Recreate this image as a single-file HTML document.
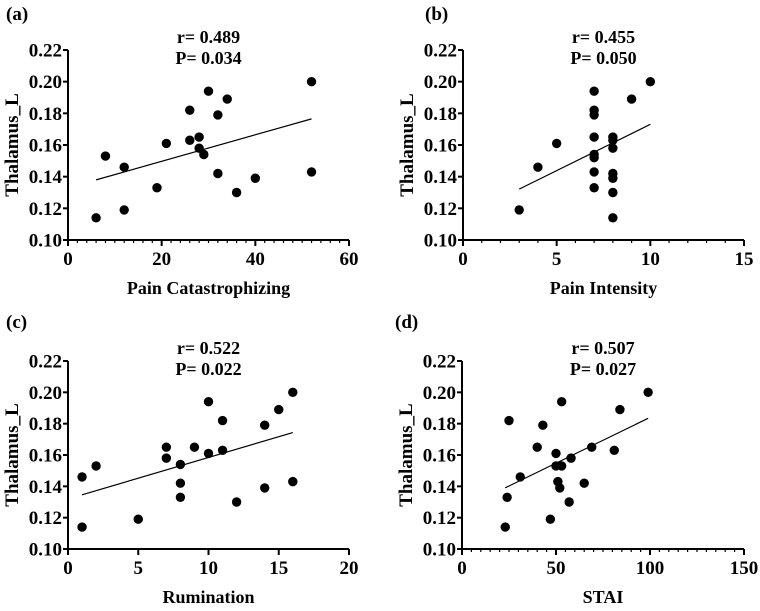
<!DOCTYPE html>
<html><head><meta charset="utf-8"><style>
body{margin:0;background:#fff;}
svg text{font-family:"Liberation Serif",serif;font-weight:bold;fill:#000;}
</style></head><body>
<svg id="fig" width="760" height="606" xmlns="http://www.w3.org/2000/svg"></svg>
<script>
const aX=[6,8,12,12,19,21,26,26,28,28,29,30,32,32,34,36,40,52,52];
const aY=[0.114,0.153,0.146,0.119,0.133,0.161,0.182,0.163,0.165,0.158,0.154,0.194,0.179,0.142,0.189,0.130,0.139,0.200,0.143];
const bX=[3,4,5,7,7,7,7,7,7,7,7,8,8,8,8,8,8,8,9,10];
const bY=[0.119,0.146,0.161,0.194,0.182,0.179,0.165,0.154,0.152,0.143,0.133,0.165,0.163,0.158,0.142,0.139,0.130,0.114,0.189,0.200];
const cX=[1,1,2,5,7,7,8,8,8,9,10,10,11,11,12,14,14,15,16,16];
const cY=[0.146,0.114,0.153,0.119,0.165,0.158,0.154,0.142,0.133,0.165,0.194,0.161,0.182,0.163,0.130,0.179,0.139,0.189,0.200,0.143];
const dX=[23,24,25,31,40,43,47,50,50,51,52,53,53,57,58,65,69,81,84,99];
const dY=[0.114,0.133,0.182,0.146,0.165,0.179,0.119,0.161,0.153,0.143,0.139,0.153,0.194,0.130,0.158,0.142,0.165,0.163,0.189,0.200];
const yTicks=[0.10,0.12,0.14,0.16,0.18,0.20,0.22];
const aTicks=[0,20,40,60], bTicks=[0,5,10,15], cTicks=[0,5,10,15,20], dTicks=[0,50,100,150];
const labels=['(a)','(b)','(c)','(d)'];
const stats=[['r= 0.489','P= 0.034'],['r= 0.455','P= 0.050'],['r= 0.522','P= 0.022'],['r= 0.507','P= 0.027']];
const titles=['Pain Catastrophizing','Pain Intensity','Rumination','STAI'];
const NS='http://www.w3.org/2000/svg';
const svg=document.getElementById('fig');
function mk(t,a,p){const e=document.createElementNS(NS,t);for(const k in a)e.setAttribute(k,a[k]);(p||svg).appendChild(e);return e;}
const panels=[
 {xs:aX,ys:aY,xt:aTicks,minor:2,x0:68,x1:349,y0:240,y1:50,lx:6,ly:20},
 {xs:bX,ys:bY,xt:bTicks,minor:1,x0:463,x1:744,y0:240,y1:50,lx:425,ly:20},
 {xs:cX,ys:cY,xt:cTicks,minor:0,x0:68,x1:349,y0:549,y1:361,lx:6,ly:328},
 {xs:dX,ys:dY,xt:dTicks,minor:5,x0:462,x1:744,y0:549,y1:361,lx:395,ly:328}];
panels.forEach((P,i)=>{
 const g=mk('g',{});
 
 
 const xmax=P.xt[P.xt.length-1];
 const sx=v=>P.x0+(v/xmax)*(P.x1-P.x0);
 const sy=v=>P.y0-(v-0.10)/0.12*(P.y0-P.y1);
 const pl=mk('text',{x:P.lx,y:P.ly,'font-size':19},g);pl.textContent=labels[i];
 
 
 const ax=mk('path',{d:`M${P.x0},${P.y1}V${P.y0}H${P.x1}`,stroke:'#000','stroke-width':2,fill:'none'},g);
 
 
 yTicks.forEach(t=>{const y=sy(t);mk('line',{x1:P.x0-5,x2:P.x0,y1:y,y2:y,stroke:'#000','stroke-width':2},g);
  const tx=mk('text',{x:P.x0-6,y:y+6.5,'font-size':19,'text-anchor':'end'},g);tx.textContent=t.toFixed(2);
  
  });
 if(P.minor){for(let v=0;v<=xmax;v+=P.minor){const x=sx(v);mk('line',{x1:x,x2:x,y1:P.y0,y2:P.y0+3,stroke:'#000','stroke-width':1.2},g);}}
 P.xt.forEach(t=>{const x=sx(t);mk('line',{x1:x,x2:x,y1:P.y0,y2:P.y0+6,stroke:'#000','stroke-width':2},g);
  const tx=mk('text',{x:x,y:P.y0+25,'font-size':19,'text-anchor':'middle'},g);tx.textContent=t;
  
  });
 const xt=mk('text',{x:(P.x0+P.x1)/2,y:P.y0+54,'font-size':18,'text-anchor':'middle'},g);xt.textContent=titles[i];
 
 
 const yc=(P.y0+P.y1)/2,yx=P.x0-50;
 const yt=mk('text',{x:yx,y:yc,'font-size':19,'text-anchor':'middle',transform:`rotate(-90 ${yx} ${yc})`},g);yt.textContent='Thalamus_L';
 
 
 const cx=(P.x0+P.x1)/2-0;
 const s1=mk('text',{x:cx,y:P.y1-7,'font-size':18,'text-anchor':'middle'},g);s1.textContent=stats[i][0];
 
 
 const s2=mk('text',{x:cx,y:P.y1+14,'font-size':18,'text-anchor':'middle'},g);s2.textContent=stats[i][1];
 
 
 const n=P.xs.length;let mx=0,my=0;P.xs.forEach((v,k)=>{mx+=v;my+=P.ys[k];});mx/=n;my/=n;
 let sxy=0,sxx=0;P.xs.forEach((v,k)=>{sxy+=(v-mx)*(P.ys[k]-my);sxx+=(v-mx)*(v-mx);});
 const b=sxy/sxx,a=my-b*mx;const lo=Math.min(...P.xs),hi=Math.max(...P.xs);
 const rl=mk('line',{x1:sx(lo),y1:sy(a+b*lo),x2:sx(hi),y2:sy(a+b*hi),stroke:'#000','stroke-width':1.2},g);
 
 
 P.xs.forEach((v,k)=>{const c=mk('circle',{cx:sx(v),cy:sy(P.ys[k]),r:4.7,fill:'#000'},g);
  
  });
});
</script>
</body></html>
